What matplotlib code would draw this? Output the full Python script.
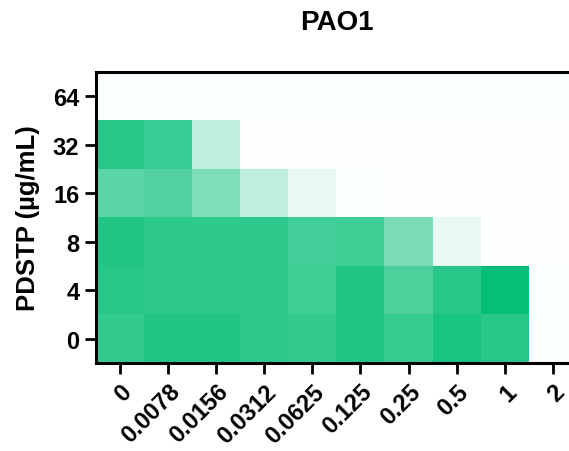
import numpy as np
import matplotlib.pyplot as plt
from matplotlib.colors import LinearSegmentedColormap

plt.rcParams['font.family'] = ['Liberation Sans', 'DejaVu Sans']
plt.rcParams['font.weight'] = 'bold'

x_labels = ['0', '0.0078', '0.0156', '0.0312', '0.0625', '0.125', '0.25', '0.5', '1', '2']
y_labels = ['0', '4', '8', '16', '32', '64']

# relative growth, rows from bottom (PDSTP 0) to top (PDSTP 64)
row_0 = [0.80, 0.87, 0.87, 0.82, 0.80, 0.87, 0.79, 0.90, 0.84, 0.02]
row_4 = [0.85, 0.82, 0.82, 0.82, 0.75, 0.87, 0.70, 0.85, 0.98, 0.02]
row_8 = [0.87, 0.82, 0.82, 0.82, 0.74, 0.75, 0.52, 0.09, 0.01, 0.01]
row_16 = [0.64, 0.68, 0.50, 0.25, 0.09, 0.02, 0.01, 0.01, 0.01, 0.01]
row_32 = [0.85, 0.78, 0.25, 0.01, 0.01, 0.01, 0.01, 0.01, 0.01, 0.01]
row_64 = [0.02, 0.02, 0.02, 0.02, 0.02, 0.02, 0.02, 0.02, 0.02, 0.02]

growth = np.array([row_0, row_4, row_8, row_16, row_32, row_64])

cmap = LinearSegmentedColormap.from_list('wg', ['#ffffff', '#00bd74'])

fig = plt.figure(figsize=(5.69, 4.52), dpi=100)
ax = fig.add_axes([0.1687, 0.1947, 0.845, 0.644])
ax.pcolormesh(growth, cmap=cmap, vmin=0, vmax=1)

ax.set_xticks(np.arange(len(x_labels)) + 0.5)
ax.set_xticklabels(x_labels, rotation=45, ha='right', rotation_mode='anchor')
ax.set_yticks(np.arange(len(y_labels)) + 0.5)
ax.set_yticklabels(y_labels)
ax.tick_params(labelsize=17, width=2, length=8, pad=4)
for s in ax.spines.values():
    s.set_linewidth(2.2)

ax.set_ylabel('PDSTP (µg/mL)', fontsize=18.5, fontweight='bold', labelpad=9)
ax.set_title('PAO1', fontsize=20, fontweight='bold', pad=31)

fig.savefig('out.png', dpi=100)
